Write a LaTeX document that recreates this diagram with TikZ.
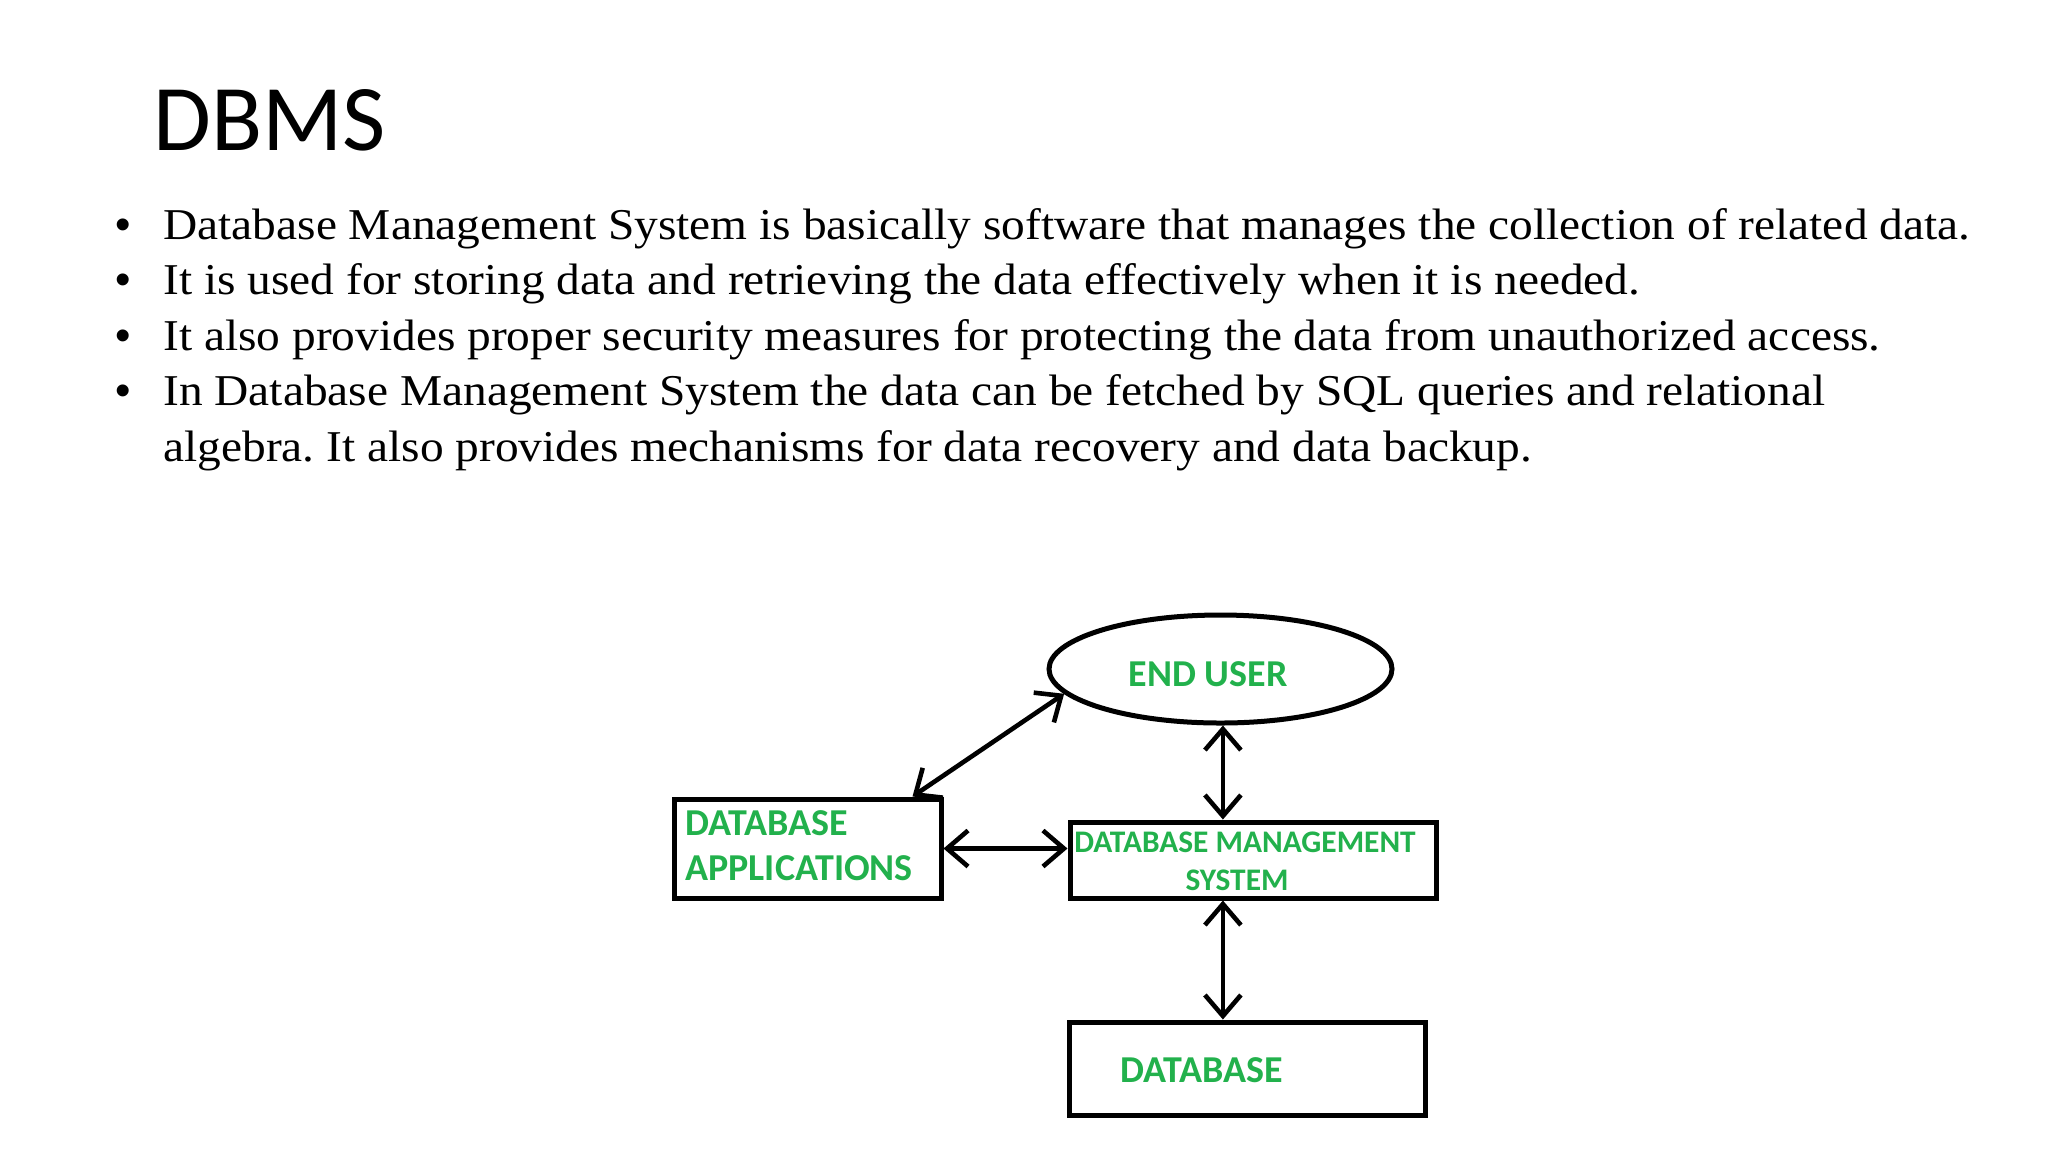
\documentclass[tikz,border=0pt]{standalone}
\usepackage{fontspec}
\setmainfont{Liberation Serif}
\newfontfamily\bodyfont[FakeStretch=1.077]{Liberation Serif}
\newfontfamily\carlito{Carlito}
\newfontfamily\bulletfont{Liberation Sans}
\usetikzlibrary{shapes.geometric,arrows.meta}
\definecolor{paintgreen}{RGB}{34,177,76}
\tikzset{
  box/.style={draw=black, line width=2.5pt, rectangle, inner sep=0pt},
  oval/.style={draw=black, line width=2.5pt, ellipse, inner sep=0pt},
  lbl/.style={text=paintgreen, font=\carlito\bfseries\fontsize{19}{21}\selectfont, inner sep=0pt},
  smalllbl/.style={text=paintgreen, font=\carlito\bfseries\fontsize{15.7}{18}\selectfont, inner sep=0pt},
  body/.style={font=\bodyfont\frenchspacing\fontsize{22}{28}\selectfont, inner sep=0pt, anchor=base west},
  bul/.style={font=\bulletfont\fontsize{22}{28}\selectfont, inner sep=0pt, anchor=base},
  dbl/.style={line width=2.3pt, line cap=round, {Straight Barb[length=10.5pt,width=18pt]}-{Straight Barb[length=10.5pt,width=18pt]}},
}
\begin{document}
\begin{tikzpicture}[x=0.5pt, y=-0.5pt]
\path[fill=white, use as bounding box] (0,0) rectangle (2048,1152);

% title
\node[inner sep=0pt, anchor=base west, font=\carlito\fontsize{47}{56}\selectfont] (title) at (153,150) {DBMS};

% bullets
\node[bul] (b1) at (123,239) {•};
\node[body] (l1) at (163,239) {Database Management System is basically software that manages the collection of related data.};
\node[bul] (b2) at (123,294.5) {•};
\node[body] (l2) at (163,294.5) {It is used for storing data and retrieving the data effectively when it is needed.};
\node[bul] (b3) at (123,350) {•};
\node[body] (l3) at (163,350) {It also provides proper security measures for protecting the data from unauthorized access.};
\node[bul] (b4) at (123,405.5) {•};
\node[body] (l4) at (163,405.5) {In Database Management System the data can be fetched by SQL queries and relational};
\node[body] (l5) at (163,461) {algebra. It also provides mechanisms for data recovery and data backup.};

% diagram shapes
\node[oval, minimum width=171.5pt, minimum height=54pt] (eu) at (1220.5,669) {};
\node[box, minimum width=133.5pt, minimum height=49.5pt] (dba) at (807.5,848.5) {};
\node[box, minimum width=183pt, minimum height=38pt] (dbms) at (1253,860) {};
\node[box, minimum width=178pt, minimum height=46.5pt] (db) at (1247,1068.5) {};

% labels
\node[lbl, anchor=base] (eut) at (1208,686) {END USER};
\node[lbl, anchor=base west] (dbat1) at (685,835) {DATABASE};
\node[lbl, anchor=base west] (dbat2) at (685,880) {APPLICATIONS};
\node[smalllbl, anchor=base] (dbmst1) at (1245,852) {DATABASE MANAGEMENT};
\node[smalllbl, anchor=base] (dbmst2) at (1237,890) {SYSTEM};
\node[lbl, anchor=base] (dbt) at (1202,1082) {DATABASE};

% connectors
\coordinate (dbatop) at ([xshift=-15.5pt]dba.north east);
\coordinate (vx) at ([xshift=1.2pt]eu.south);
\draw[dbl] (dbatop) -- (eu.189);
\draw[dbl] (dba.east) -- (dba.east -| dbms.west);
\draw[dbl] (vx) -- (vx |- dbms.north);
\draw[dbl] (vx |- dbms.south) -- (vx |- db.north);
\end{tikzpicture}
\end{document}
